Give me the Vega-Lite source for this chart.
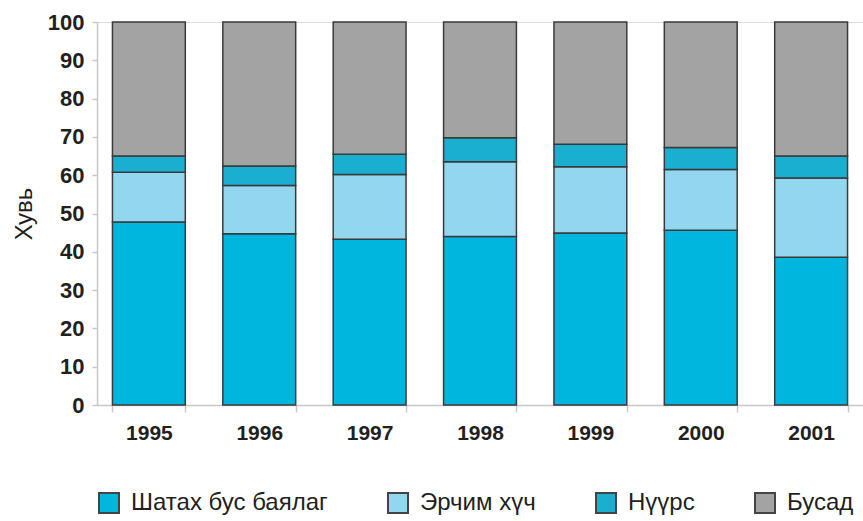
{
  "$schema": "https://vega.github.io/schema/vega-lite/v6.json",
  "autosize": "none",
  "width": 766,
  "height": 383,
  "padding": {"left": 97, "top": 22, "right": 0, "bottom": 116},
  "background": "white",
  "data": {
    "values": [
      {"year": "1995", "cat": "Шатах бус баялаг", "ord": 1, "v": 47.8},
      {"year": "1995", "cat": "Эрчим хүч", "ord": 2, "v": 13.0},
      {"year": "1995", "cat": "Нүүрс", "ord": 3, "v": 4.2},
      {"year": "1995", "cat": "Бусад", "ord": 4, "v": 35.0},
      {"year": "1996", "cat": "Шатах бус баялаг", "ord": 1, "v": 44.7},
      {"year": "1996", "cat": "Эрчим хүч", "ord": 2, "v": 12.6},
      {"year": "1996", "cat": "Нүүрс", "ord": 3, "v": 5.1},
      {"year": "1996", "cat": "Бусад", "ord": 4, "v": 37.6},
      {"year": "1997", "cat": "Шатах бус баялаг", "ord": 1, "v": 43.3},
      {"year": "1997", "cat": "Эрчим хүч", "ord": 2, "v": 16.9},
      {"year": "1997", "cat": "Нүүрс", "ord": 3, "v": 5.3},
      {"year": "1997", "cat": "Бусад", "ord": 4, "v": 34.5},
      {"year": "1998", "cat": "Шатах бус баялаг", "ord": 1, "v": 44.0},
      {"year": "1998", "cat": "Эрчим хүч", "ord": 2, "v": 19.5},
      {"year": "1998", "cat": "Нүүрс", "ord": 3, "v": 6.3},
      {"year": "1998", "cat": "Бусад", "ord": 4, "v": 30.2},
      {"year": "1999", "cat": "Шатах бус баялаг", "ord": 1, "v": 44.9},
      {"year": "1999", "cat": "Эрчим хүч", "ord": 2, "v": 17.3},
      {"year": "1999", "cat": "Нүүрс", "ord": 3, "v": 5.9},
      {"year": "1999", "cat": "Бусад", "ord": 4, "v": 31.9},
      {"year": "2000", "cat": "Шатах бус баялаг", "ord": 1, "v": 45.6},
      {"year": "2000", "cat": "Эрчим хүч", "ord": 2, "v": 15.9},
      {"year": "2000", "cat": "Нүүрс", "ord": 3, "v": 5.7},
      {"year": "2000", "cat": "Бусад", "ord": 4, "v": 32.8},
      {"year": "2001", "cat": "Шатах бус баялаг", "ord": 1, "v": 38.6},
      {"year": "2001", "cat": "Эрчим хүч", "ord": 2, "v": 20.7},
      {"year": "2001", "cat": "Нүүрс", "ord": 3, "v": 5.7},
      {"year": "2001", "cat": "Бусад", "ord": 4, "v": 35.0}
    ]
  },
  "mark": {"type": "bar", "stroke": "#3a3a3a", "strokeWidth": 1.5},
  "encoding": {
    "x": {
      "field": "year", "type": "nominal",
      "scale": {"paddingInner": 0.34, "paddingOuter": 0.14},
      "axis": {
        "title": null, "labelAngle": 0,
        "labelFont": "Liberation Sans", "labelFontWeight": "bold", "labelFontSize": 21,
        "labelColor": "#231f20", "labelPadding": 10,
        "domainColor": "#c8c8c8", "domainWidth": 1.5, "tickColor": "#c8c8c8", "tickWidth": 1.5,
        "tickSize": 7, "tickBand": "extent"
      }
    },
    "y": {
      "field": "v", "type": "quantitative", "stack": "zero",
      "scale": {"domain": [0, 100], "nice": false},
      "axis": {
        "title": "Хувь", "titleFont": "Liberation Sans", "titleFontWeight": "normal",
        "titleFontSize": 24, "titleColor": "#231f20", "titlePadding": 11,
        "values": [0, 10, 20, 30, 40, 50, 60, 70, 80, 90, 100],
        "labelFont": "Liberation Sans", "labelFontWeight": "bold", "labelFontSize": 22,
        "labelColor": "#231f20", "labelPadding": 8,
        "domainColor": "#c8c8c8", "domainWidth": 1.5, "tickColor": "#c8c8c8", "tickWidth": 1.5,
        "tickSize": 5, "grid": false
      }
    },
    "color": {
      "field": "cat", "type": "nominal",
      "scale": {
        "domain": ["Шатах бус баялаг", "Эрчим хүч", "Нүүрс", "Бусад"],
        "range": ["#00b5de", "#93d6ef", "#1aaed0", "#a3a3a3"]
      },
      "legend": {
        "title": null, "orient": "bottom", "direction": "horizontal", "offset": 48,
        "symbolType": "square", "symbolSize": 400, "symbolStrokeColor": "#444444", "symbolStrokeWidth": 2,
        "labelFont": "Liberation Sans", "labelFontSize": 24, "labelColor": "#231f20",
        "labelLimit": 300, "columnPadding": 56, "labelOffset": 10
      }
    },
    "order": {"field": "ord", "type": "quantitative"}
  }
}
